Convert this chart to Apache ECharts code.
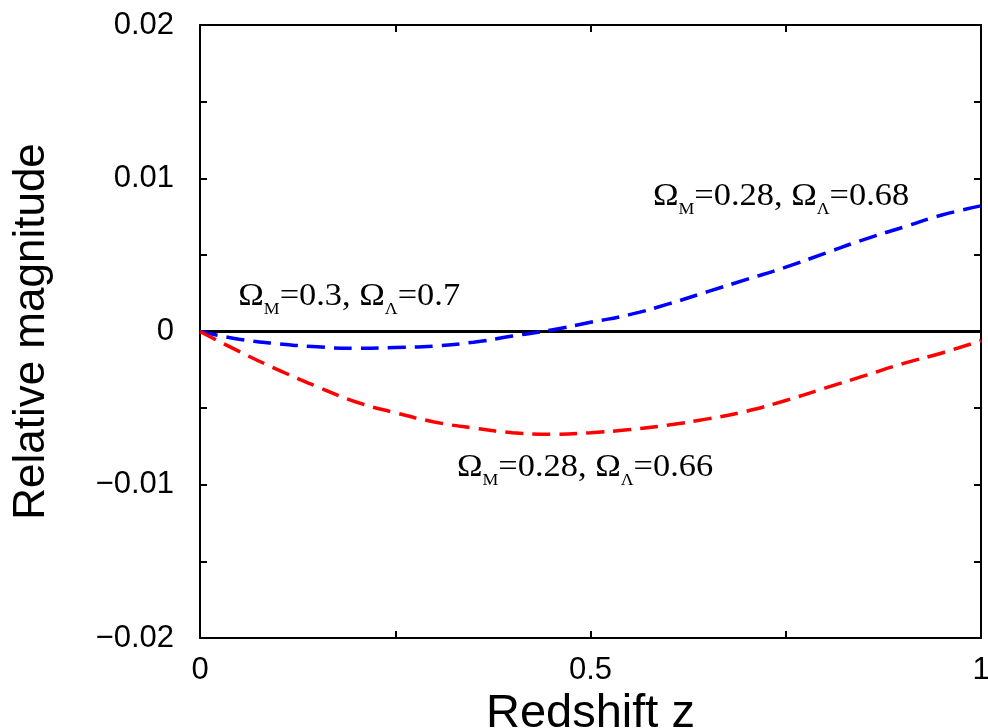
<!DOCTYPE html>
<html><head><meta charset="utf-8">
<script src="https://cdn.jsdelivr.net/npm/echarts@6/dist/echarts.min.js"></script>
<style>html,body{margin:0;padding:0;background:#fff}#c{width:988px;height:728px}</style>
</head><body><div id="c"></div>
<script>
// Redshift sample points
const redshift = [0, 0.05, 0.1, 0.15, 0.2, 0.25, 0.3, 0.35, 0.4, 0.45, 0.5, 0.55, 0.6, 0.65, 0.7, 0.75, 0.8, 0.85, 0.9, 0.95, 1.0];
// Omega_M=0.28, Omega_L=0.68 (blue dashed)
const blueValues = [0, -0.0005, -0.0008, -0.001, -0.0011, -0.00105, -0.00095, -0.0007, -0.0003, 0.0001, 0.0006, 0.0011, 0.0018, 0.0026, 0.0034, 0.0042, 0.0051, 0.006, 0.0068, 0.0076, 0.0082];
// Omega_M=0.28, Omega_L=0.66 (red dashed)
const redValues = [0, -0.0013, -0.0025, -0.0036, -0.0046, -0.0053, -0.0059, -0.0063, -0.0066, -0.0067, -0.0066, -0.0064, -0.0061, -0.0057, -0.0052, -0.0045, -0.0037, -0.0029, -0.0021, -0.0014, -0.0006];
// Reference model Omega_M=0.3, Omega_L=0.7 (black solid)
const referenceZ = [0, 1];
const referenceValues = [0, 0];
// Axis ranges / ticks
const xRange = [0, 1], xStep = 0.5;
const yRange = [-0.02, 0.02], yStep = 0.01;
// Annotations (anchor in data coordinates: left edge, text middle)
const annotationText = [
  ['0.3', '0.7'],
  ['0.28', '0.68'],
  ['0.28', '0.66']
];
const annotationZ = [0.049, 0.58, 0.329];
const annotationM = [0.00225, 0.00878, -0.0089];

const zip = (xs, ys) => xs.map((x, i) => [x, ys[i]]);
const chart = echarts.init(document.getElementById('c'), null, {renderer: 'canvas'});
const sans = 'Liberation Sans';
const fmtY = v => {
  if (Math.abs(v) < 1e-12) return '0';
  return (v < 0 ? '\u2212' : '') + Math.abs(v).toFixed(2);
};
const fmtX = v => (Math.abs(v) < 1e-12 ? '0' : String(+v.toFixed(2)));
const axisCommon = {
  axisLine: {show: true, onZero: false, lineStyle: {color: '#000', width: 2}},
  axisTick: {show: true, inside: true, length: 7, lineStyle: {color: '#000', width: 2}},
  minorTick: {show: true, splitNumber: 2, length: 7, lineStyle: {color: '#000', width: 2}},
  splitLine: {show: false}
};
chart.setOption({
  animation: false,
  backgroundColor: '#fff',
  grid: {left: 200, right: 7, top: 25, bottom: 90, containLabel: false, outerBoundsMode: 'none'},
  xAxis: [
    Object.assign({
      type: 'value', min: xRange[0], max: xRange[1], interval: xStep, position: 'bottom',
      name: 'Redshift z', nameLocation: 'middle', nameGap: 44,
      nameTextStyle: {fontFamily: sans, fontSize: 47, color: '#000'},
      axisLabel: {fontFamily: sans, fontSize: 31, color: '#000', margin: 17, formatter: fmtX}
    }, axisCommon),
    Object.assign({
      type: 'value', min: xRange[0], max: xRange[1], interval: xStep, position: 'top',
      axisLabel: {show: false}
    }, axisCommon)
  ],
  yAxis: [
    Object.assign({
      type: 'value', min: yRange[0], max: yRange[1], interval: yStep, position: 'left',
      name: 'Relative magnitude', nameLocation: 'middle', nameGap: 146,
      nameTextStyle: {fontFamily: sans, fontSize: 44, color: '#000'},
      axisLabel: {fontFamily: sans, fontSize: 31, color: '#000', margin: 26, formatter: fmtY}
    }, axisCommon),
    Object.assign({
      type: 'value', min: yRange[0], max: yRange[1], interval: yStep, position: 'right',
      axisLabel: {show: false}
    }, axisCommon)
  ],
  series: [
    {type: 'line', data: zip(referenceZ, referenceValues), showSymbol: false, symbol: 'none',
     lineStyle: {color: '#000', width: 3}, z: 3},
    {type: 'line', data: zip(redshift, blueValues), smooth: true, showSymbol: false, symbol: 'none',
     lineStyle: {color: '#0000ff', width: 3.5, type: [18, 9]}, z: 4},
    {type: 'line', data: zip(redshift, redValues), smooth: true, showSymbol: false, symbol: 'none',
     lineStyle: {color: '#ff0000', width: 3.5, type: [18, 9]}, z: 4}
  ]
});

const serif = 'Liberation Serif';
const graphics = annotationText.map((t, i) => {
  const p = chart.convertToPixel({gridIndex: 0}, [annotationZ[i], annotationM[i]]);
  return {
    type: 'text', x: p[0], y: p[1] - 16, scaleX: 1.11, z: 10,
    style: {
      text: '{o|\u03A9}{s|M}{o|=' + t[0] + ', \u03A9}{s|\u039B}{o|=' + t[1] + '}',
      textAlign: 'left', textVerticalAlign: 'top',
      rich: {
        o: {fontFamily: serif, fontSize: 31, lineHeight: 31, verticalAlign: 'top', color: '#000'},
        s: {fontFamily: serif, fontSize: 16, lineHeight: 16, verticalAlign: 'top', padding: [21, 0, 0, 0], color: '#000'}
      }
    }
  };
});
chart.setOption({graphic: graphics});
</script></body></html>
